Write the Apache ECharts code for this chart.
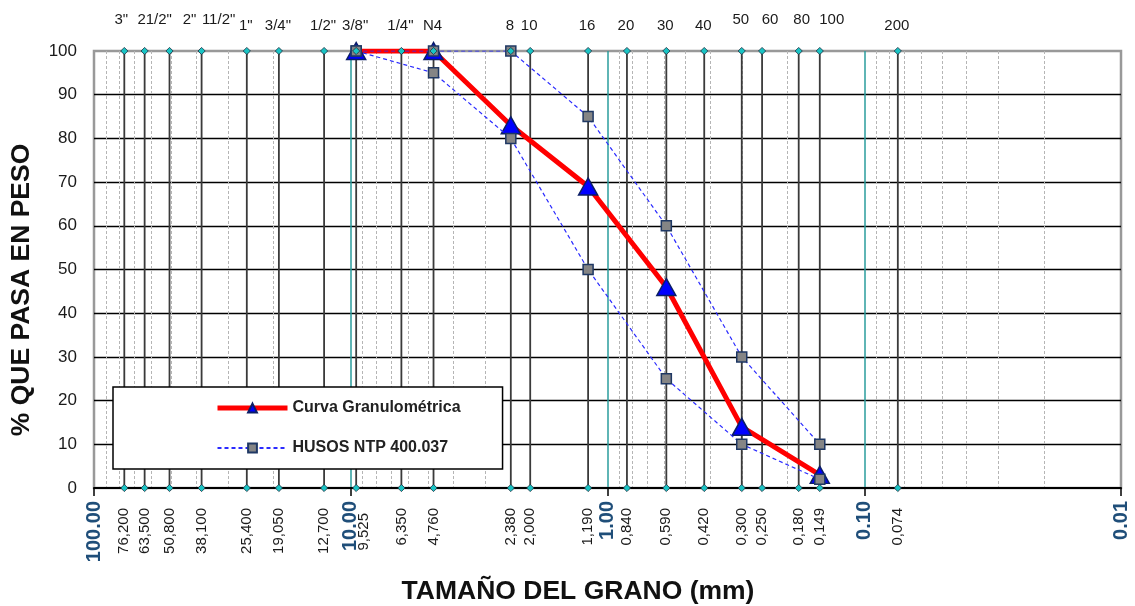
<!DOCTYPE html>
<html>
<head>
<meta charset="utf-8">
<script src="https://cdn.jsdelivr.net/npm/echarts@6/dist/echarts.min.js"></script>
<style>
html,body{margin:0;padding:0;background:#fff;}
#chart{width:1135px;height:606px;}
</style>
</head>
<body>
<div id="chart"></div>
<script>
// ---------- DATA ----------
const sieveSizes = [76.2, 63.5, 50.8, 38.1, 25.4, 19.05, 12.7, 9.525, 6.35, 4.76, 2.38, 2.0, 1.19, 0.84, 0.59, 0.42, 0.30, 0.25, 0.18, 0.149, 0.074];
const sieveNames = ['3"', '21/2"', '2"', '11/2"', '1"', '3/4"', '1/2"', '3/8"', '1/4"', 'N4', '8', '10', '16', '20', '30', '40', '50', '60', '80', '100', '200'];
const sieveLabels = ['76,200', '63,500', '50,800', '38,100', '25,400', '19,050', '12,700', '9,525', '6,350', '4,760', '2,380', '2,000', '1,190', '0,840', '0,590', '0,420', '0,300', '0,250', '0,180', '0,149', '0,074'];

const testSizes = [9.525, 4.76, 2.38, 1.19, 0.59, 0.30, 0.149];
const curvaPasa = [100, 100, 83, 69, 46, 14, 3];
const husoSuperior = [100, 100, 100, 85, 60, 30, 10];
const husoInferior = [100, 95, 80, 50, 25, 10, 2];

const yTicks = [0, 10, 20, 30, 40, 50, 60, 70, 80, 90, 100];

const curvaName = 'Curva Granulométrica';
const husoName = 'HUSOS NTP 400.037';

// ---------- CHART ----------
const FONT = '"Liberation Sans", Arial, sans-serif';
// label placement (style only)
const raisedNames = new Set(['3"', '21/2"', '2"', '11/2"', '50', '60', '80', '100']);
const nameNudge = {'3"': -3, '21/2"': 10, '2"': 20, '11/2"': 17, '60': 8, '80': 3, '100': 12};

const minorValues = [];
for (let k = -2; k <= 1; k++) {
  for (let m = 2; m <= 9; m++) minorValues.push(+(m * Math.pow(10, k)).toPrecision(3));
}

const zip = (xs, ys) => xs.map((x, i) => [x, ys[i]]);

const chart = echarts.init(document.getElementById('chart'), null, {renderer: 'canvas'});

const option = {
  animation: false,
  backgroundColor: '#ffffff',
  grid: {
    left: 94, right: 14, top: 51, bottom: 118,
    show: true, borderColor: '#999999', borderWidth: 2.5, backgroundColor: 'transparent'
  },
  xAxis: {
    type: 'log', logBase: 10, min: 0.01, max: 100, inverse: true, splitNumber: 4,
    axisLine: {show: true, onZero: false, lineStyle: {color: '#000', width: 2}},
    axisTick: {show: true, length: 8, lineStyle: {color: '#000', width: 1.5}},
    axisLabel: {
      rotate: 90, margin: 13, color: '#1F4E79', fontFamily: FONT, fontSize: 20, fontWeight: 'bold',
      formatter: v => Number(v).toFixed(2)
    },
    splitLine: {show: true, showMinLine: false, showMaxLine: false, lineStyle: {color: '#2a9d9d', width: 1.5}},
    minorTick: {show: false}, minorSplitLine: {show: false}
  },
  yAxis: {
    type: 'value', min: 0, max: 100, interval: 10,
    axisLine: {show: false},
    axisTick: {show: false},
    axisLabel: {
      margin: 17, color: '#1a1a1a', fontFamily: FONT, fontSize: 17,
      customValues: yTicks
    },
    splitLine: {show: true, showMinLine: false, showMaxLine: false, lineStyle: {color: '#000', width: 1.3}}
  },
  legend: {
    data: [
      {name: curvaName, lineStyle: {color: '#ff0000', width: 5}},
      {name: husoName}
    ],
    orient: 'vertical', left: 113, top: 387,
    padding: [13, 42, 13, 102],
    itemWidth: 70, itemHeight: 11, itemGap: 24,
    backgroundColor: '#ffffff', borderColor: '#000', borderWidth: 1.5, borderRadius: 0,
    textStyle: {fontFamily: FONT, fontSize: 16, fontWeight: 'bold', color: '#222'},
    selectedMode: false
  },
  graphic: [
    {
      type: 'text', x: 22, y: 290, rotation: Math.PI / 2,
      style: {text: '% QUE PASA EN PESO', font: 'bold 26.5px ' + FONT, fill: '#111', align: 'center', verticalAlign: 'middle'}
    },
    {
      type: 'text', x: 578, y: 592,
      style: {text: 'TAMAÑO DEL GRANO (mm)', font: 'bold 26.5px ' + FONT, fill: '#111', align: 'center', verticalAlign: 'middle'}
    }
  ],
  series: [
    {
      // minor dashed log gridlines
      type: 'custom', name: 'minorGrid', silent: true, z: 0,
      data: minorValues.map(v => [v, 0]),
      renderItem: (params, api) => {
        const xv = api.value(0);
        const a = api.coord([xv, 100]);
        const b = api.coord([xv, 0]);
        return {
          type: 'line',
          shape: {x1: Math.round(a[0]) + 0.5, y1: a[1], x2: Math.round(b[0]) + 0.5, y2: b[1]},
          style: {stroke: '#b5b5b5', lineWidth: 1, lineDash: [3, 2]}
        };
      }
    },
    {
      // sieve vertical lines
      type: 'custom', name: 'sieveLines', silent: true, z: 1,
      data: sieveSizes.map((s, i) => [s, 0, i]),
      renderItem: (params, api) => {
        const xv = api.value(0);
        const a = api.coord([xv, 100]);
        const b = api.coord([xv, 0]);
        return {
          type: 'line',
          shape: {x1: a[0], y1: a[1], x2: b[0], y2: b[1]},
          style: {stroke: '#3a3a3a', lineWidth: 1.8}
        };
      }
    },
    {
      name: curvaName, type: 'line', z: 3,
      data: zip(testSizes, curvaPasa),
      lineStyle: {color: '#ff0000', width: 5},
      symbol: 'triangle', symbolSize: [19, 17],
      itemStyle: {color: '#0000ff', borderColor: '#0b1e66', borderWidth: 1.5},
      color: '#ff0000'
    },
    {
      name: husoName, type: 'line', z: 4,
      data: zip(testSizes, husoSuperior),
      lineStyle: {color: '#2b2bff', width: 1.2, type: [4, 3]},
      symbol: 'rect', symbolSize: 10,
      itemStyle: {color: '#858585', borderColor: '#1f3864', borderWidth: 1.5}
    },
    {
      name: husoName, type: 'line', z: 4,
      data: zip(testSizes, husoInferior),
      lineStyle: {color: '#2b2bff', width: 1.2, type: [4, 3]},
      symbol: 'rect', symbolSize: 10,
      itemStyle: {color: '#858585', borderColor: '#1f3864', borderWidth: 1.5}
    },
    {
      // sieve markers & labels
      type: 'custom', name: 'sieveMarks', silent: true, z: 10,
      data: sieveSizes.map((s, i) => [s, 0, i]),
      renderItem: (params, api) => {
        const xv = api.value(0);
        const i = api.value(2);
        const a = api.coord([xv, 100]);
        const b = api.coord([xv, 0]);
        const d = 3.6;
        const diamond = (p) => ({
          type: 'polygon',
          shape: {points: [[p[0], p[1] - d], [p[0] + d, p[1]], [p[0], p[1] + d], [p[0] - d, p[1]]]},
          style: {fill: '#19c4c4', stroke: '#1a2e40', lineWidth: 0.8}
        });
        const name = sieveNames[i];
        const raised = raisedNames.has(name);
        const nudge = nameNudge[name] || -1;
        let bx = b[0], by = 508;
        if (name === '3/8"') { bx += 8; by += 5; }
        return {
          type: 'group',
          children: [
            diamond(a), diamond(b),
            {
              type: 'text', x: a[0] + nudge, y: raised ? 20 : 26,
              style: {text: name, font: '15px ' + FONT, fill: '#1a1a1a', align: 'center', verticalAlign: 'middle'}
            },
            {
              type: 'text', x: bx, y: by, rotation: Math.PI / 2,
              style: {text: sieveLabels[i], font: '15px ' + FONT, fill: '#1a1a1a', align: 'right', verticalAlign: 'middle'}
            }
          ]
        };
      }
    }
  ]
};

chart.setOption(option);
</script>
</body>
</html>
